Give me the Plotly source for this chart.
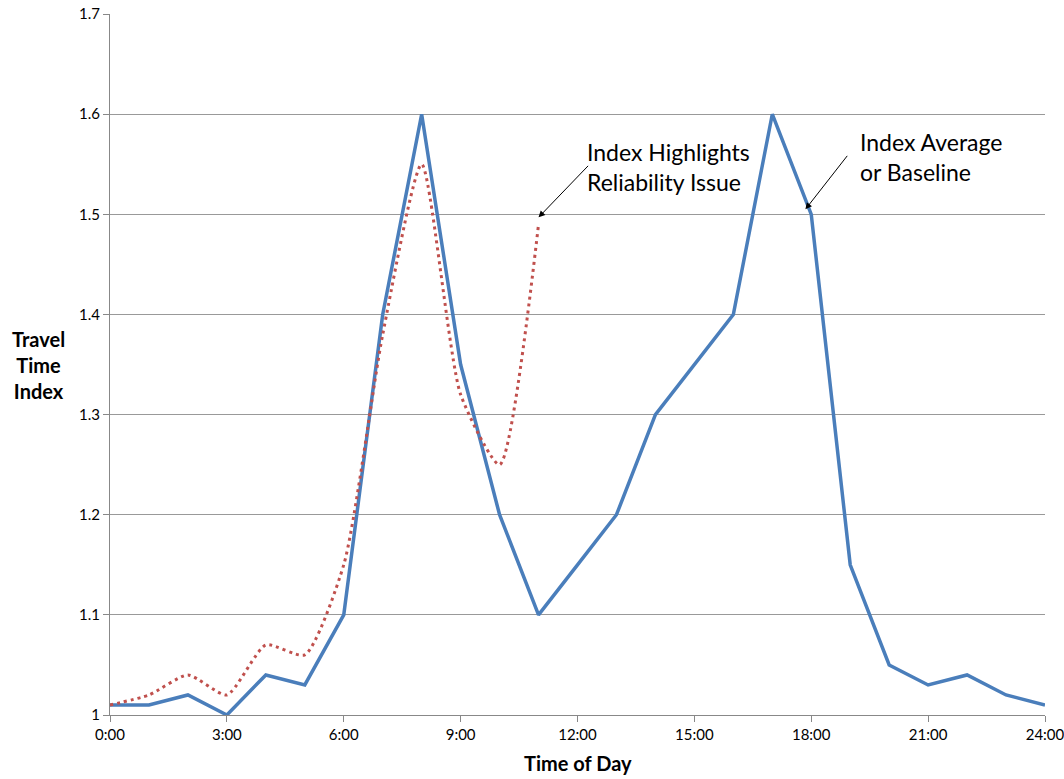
import plotly.graph_objects as go

hours = list(range(0, 25))
baseline = [1.01, 1.01, 1.02, 1.00, 1.04, 1.03, 1.10, 1.40, 1.60, 1.35, 1.20, 1.10, 1.15,
            1.20, 1.30, 1.35, 1.40, 1.60, 1.50, 1.15, 1.05, 1.03, 1.04, 1.02, 1.01]
issue_hours = list(range(0, 12))
issue = [1.01, 1.02, 1.04, 1.02, 1.07, 1.06, 1.15, 1.38, 1.55, 1.32, 1.25, 1.49]
tick_vals = [0, 3, 6, 9, 12, 15, 18, 21, 24]
tick_text = ["0:00", "3:00", "6:00", "9:00", "12:00", "15:00", "18:00", "21:00", "24:00"]
y_ticks = [1.0, 1.1, 1.2, 1.3, 1.4, 1.5, 1.6, 1.7]
y_text = ["1", "1.1", "1.2", "1.3", "1.4", "1.5", "1.6", "1.7"]

FONT = "Lato, 'Open Sans', sans-serif"

fig = go.Figure()
fig.add_trace(go.Scatter(x=hours, y=baseline, mode="lines",
                         line=dict(color="#4A7EBB", width=3.5), showlegend=False))
fig.add_trace(go.Scatter(x=issue_hours, y=issue, mode="lines",
                         line=dict(color="#C0504D", width=3, dash="3px,4px", shape="spline", smoothing=0.6),
                         showlegend=False))

fig.update_layout(
    width=1064, height=779,
    margin=dict(l=110, r=19, t=14, b=64, autoexpand=False),
    plot_bgcolor="white", paper_bgcolor="white",
    font=dict(family=FONT, color="black", size=15),
    xaxis=dict(range=[0, 24], tickvals=tick_vals, ticktext=tick_text,
               showgrid=False, zeroline=False, showline=True, linecolor="#888888",
               ticks="outside", ticklen=6, tickcolor="#888888", tickfont=dict(size=15),
               ticklabeloverflow="allow"),
    yaxis=dict(range=[1, 1.7001], tickvals=y_ticks, ticktext=y_text,
               showgrid=True, gridcolor="#999999", gridwidth=1, zeroline=False,
               showline=True, linecolor="#888888", ticks="outside", ticklen=6,
               tickcolor="#888888", tickfont=dict(size=15), ticklabeloverflow="allow"),
)

fig.add_annotation(text="<b>Travel<br>Time<br>Index</b>", xref="paper", yref="paper",
                   x=-0.077, y=0.5, xanchor="center", yanchor="middle", showarrow=False,
                   font=dict(size=20), align="center")
fig.add_annotation(text="<b>Time of Day</b>", xref="paper", yref="paper",
                   x=0.5, y=-0.068, xanchor="center", yanchor="middle", showarrow=False,
                   font=dict(size=20))

# annotation texts
fig.add_annotation(text="Index Highlights<br>Reliability Issue", xref="paper", yref="paper",
                   x=(585 - 110) / 935, y=(715 - 167) / 701, xanchor="left", yanchor="middle",
                   align="left", showarrow=False, font=dict(size=23))
fig.add_annotation(text="Index Average<br>or Baseline", xref="paper", yref="paper",
                   x=(858 - 110) / 935, y=(715 - 157) / 701, xanchor="left", yanchor="middle",
                   align="left", showarrow=False, font=dict(size=23))
# arrows
fig.add_annotation(text="", x=11, y=1.497, ax=51, ay=-53,
                   showarrow=True, arrowhead=2, arrowsize=1.3, arrowwidth=1, arrowcolor="black")
fig.add_annotation(text="", x=17.85, y=1.505, ax=43, ay=-55,
                   showarrow=True, arrowhead=2, arrowsize=1.3, arrowwidth=1, arrowcolor="black")

fig.write_html("out.html", config={"displayModeBar": False},
               post_script="document.body.style.margin='0';document.body.style.padding='0';document.body.style.overflow='hidden';")
